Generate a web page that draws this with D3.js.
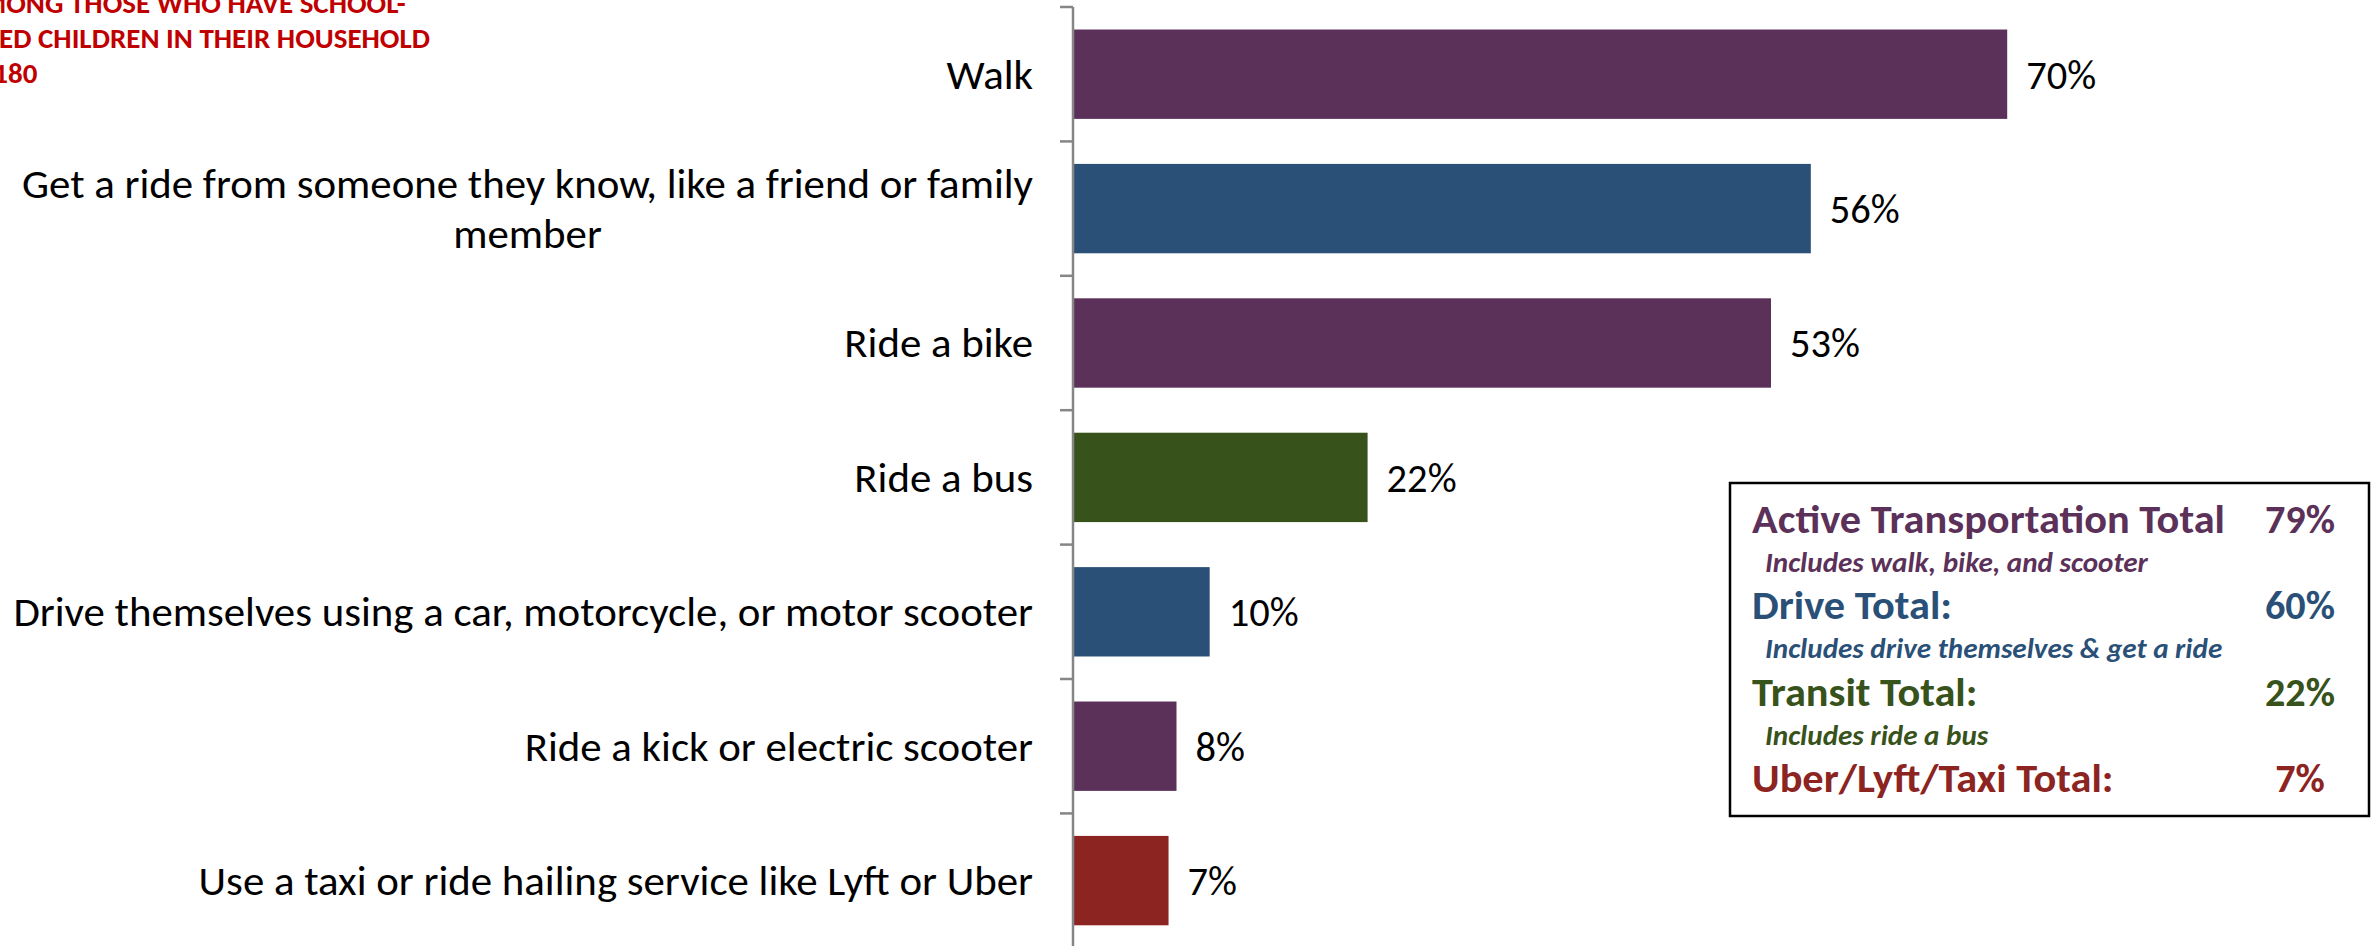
<!DOCTYPE html>
<html>
<head>
<meta charset="utf-8">
<script src="https://cdn.jsdelivr.net/npm/d3@7"></script>
<style>
  html, body { margin: 0; padding: 0; background: #fff; }
  svg { display: block; }
  text { font-family: Carlito, Calibri, Lato, "Open Sans", sans-serif; }
</style>
</head>
<body>
<svg id="chart" width="2371" height="946"></svg>
<script>
// ---- data ----
const categories = [
  "Walk",
  "Get a ride from someone they know, like a friend or family|member",
  "Ride a bike",
  "Ride a bus",
  "Drive themselves using a car, motorcycle, or motor scooter",
  "Ride a kick or electric scooter",
  "Use a taxi or ride hailing service like Lyft or Uber"
];
const values = [70.4, 55.6, 52.6, 22.2, 10.3, 7.8, 7.2];
const groups = ["active", "drive", "active", "transit", "drive", "active", "taxi"];

const groupKeys = ["active", "drive", "transit", "taxi"];
const groupColors = ["#5B3159", "#2A5078", "#37521A", "#8C2422"];

const legendLabels = ["Active Transportation Total", "Drive Total:", "Transit Total:", "Uber/Lyft/Taxi Total:"];
const legendNotes = ["Includes walk, bike, and scooter", "Includes drive themselves & get a ride", "Includes ride a bus", ""];
const legendValues = [79, 60, 22, 7];

const titleLines = ["AMONG THOSE WHO HAVE SCHOOL-", "AGED CHILDREN IN THEIR HOUSEHOLD", "n=180"];

// ---- helpers ----
const svg = d3.select("#chart");
function textWidth(str, size, weight, style) {
  const t = svg.append("text").attr("font-size", size)
    .attr("font-weight", weight || "normal").attr("font-style", style || "normal").text(str);
  const w = t.node().getComputedTextLength();
  t.remove();
  return w;
}
const pct = v => Math.round(v) + "%";

// ---- layout ----
const axisX = 1073;
const color = d3.scaleOrdinal().domain(groupKeys).range(groupColors);

const x = d3.scaleLinear().domain([0, 100]).range([axisX, axisX + 1327]);
const y = d3.scaleBand().domain(categories).range([7, 7 + 7 * 134.4])
  .paddingInner(0.335).paddingOuter(0.1675);

// bars
svg.append("g").selectAll("rect").data(categories).join("rect")
  .attr("x", x(0) + 1)
  .attr("y", d => y(d))
  .attr("width", (d, i) => x(values[i]) - x(0) - 1)
  .attr("height", y.bandwidth())
  .attr("fill", (d, i) => color(groups[i]));

// axis line + ticks at band boundaries
const ax = svg.append("g").attr("stroke", "#868686").attr("stroke-width", 2.5);
ax.append("line").attr("x1", axisX).attr("x2", axisX).attr("y1", y.range()[0]).attr("y2", 946);
d3.range(categories.length + 1).forEach(i => {
  const ty = y.range()[0] + i * y.step();
  ax.append("line").attr("x1", axisX - 13).attr("x2", axisX).attr("y1", ty).attr("y2", ty);
});

// value labels
const valSize = 40;
const valScale = 70 / textWidth("70%", valSize);
svg.append("g").selectAll("text").data(categories).join("text")
  .attr("transform", (d, i) => `translate(${x(values[i]) + 19},${y(d) + y.bandwidth() / 2}) scale(${valScale},1)`)
  .attr("dy", "0.36em")
  .attr("font-size", valSize)
  .attr("fill", "#000")
  .text((d, i) => pct(values[i]));

// category labels
const labelRight = 1033;
const catSize = 40;
const catScale = 1020 / textWidth(categories[4], catSize);
categories.forEach(c => {
  const lines = c.split("|");
  const cy = y(c) + y.bandwidth() / 2;
  const lh = 51;
  const t = svg.append("text").attr("font-size", catSize).attr("fill", "#000")
    .attr("transform", `translate(${labelRight},${cy}) scale(${catScale},1)`);
  const spans = lines.map((ln, k) => t.append("tspan")
    .attr("y", (k - (lines.length - 1) / 2) * lh)
    .attr("dy", "0.36em").text(ln));
  if (lines.length === 1) {
    t.attr("text-anchor", "end");
    spans[0].attr("x", 0);
  } else {
    const w = d3.max(spans, s => s.node().getComputedTextLength());
    t.attr("text-anchor", "middle");
    spans.forEach(s => s.attr("x", -w / 2));
  }
});

// title (clipped at left edge, as in the reference)
const title = svg.append("text").attr("font-size", 29).attr("font-weight", "bold").attr("fill", "#C00000");
const tsp = titleLines.map((ln, k) => title.append("tspan").attr("y", 13 + k * 35).text(ln));
const w2 = tsp[1].node().getComputedTextLength();
tsp.forEach(s => s.attr("x", 430 - w2));

// legend box
const lg = svg.append("g");
lg.append("rect").attr("x", 1730).attr("y", 483).attr("width", 639).attr("height", 333)
  .attr("fill", "#fff").attr("stroke", "#000").attr("stroke-width", 2.5);
const headSize = 40, noteSize = 28, lvSize = 41;
const headScale = 473 / textWidth(legendLabels[0], headSize, "bold");
const noteScale = 383 / textWidth(legendNotes[0], noteSize, "bold", "italic");
const lvScale = 70 / textWidth("79%", lvSize, "bold");
const rowY = [533, 619, 706, 792];
legendLabels.forEach((lab, i) => {
  const c = groupColors[i];
  lg.append("text").attr("transform", `translate(1752,${rowY[i]}) scale(${headScale},1)`)
    .attr("font-size", headSize).attr("font-weight", "bold").attr("fill", c).text(lab);
  lg.append("text").attr("transform", `translate(2300,${rowY[i]}) scale(${lvScale},1)`)
    .attr("text-anchor", "middle")
    .attr("font-size", lvSize).attr("font-weight", "bold").attr("fill", c).text(legendValues[i] + "%");
  if (legendNotes[i]) {
    lg.append("text").attr("transform", `translate(1765,${rowY[i] + 39}) scale(${noteScale},1)`)
      .attr("font-size", noteSize).attr("font-weight", "bold").attr("font-style", "italic")
      .attr("fill", c).text(legendNotes[i]);
  }
});
</script>
</body>
</html>
